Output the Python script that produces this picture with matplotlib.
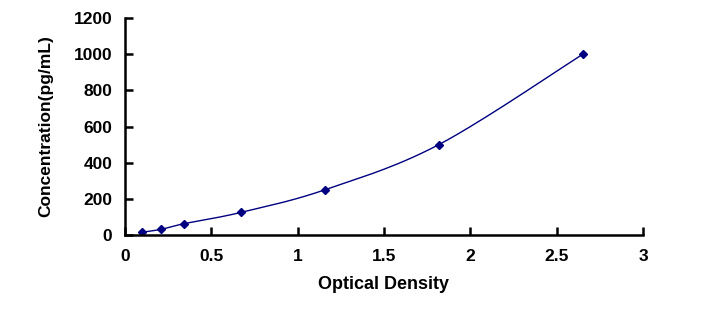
import numpy as np
import matplotlib.pyplot as plt

plt.rcParams['font.family'] = ['Liberation Sans', 'DejaVu Sans']

od = [0.098, 0.208, 0.342, 0.672, 1.158, 1.818, 2.652]
conc = [15.6, 31.2, 62.5, 125, 250, 500, 1000]


def catmull(xs, ys, n=30):
    # smooth line through points, like the spreadsheet "smoothed line"
    p = np.column_stack([xs, ys]).astype(float)
    p = np.vstack([p[0], p, p[-1]])
    out = []
    for i in range(1, len(p) - 2):
        p0, p1, p2, p3 = p[i - 1], p[i], p[i + 1], p[i + 2]
        t = np.linspace(0, 1, n)[:, None]
        c1 = p1 + (p2 - p0) / 6
        c2 = p2 - (p3 - p1) / 6
        seg = (1 - t)**3 * p1 + 3 * (1 - t)**2 * t * c1 + 3 * (1 - t) * t**2 * c2 + t**3 * p2
        out.append(seg)
    out = np.vstack(out)
    return out[:, 0], out[:, 1]


fig = plt.figure(figsize=(7.2, 3.16), dpi=100)
ax = fig.add_axes([0.1736, 0.2563, 0.7194, 0.6867])

sx, sy = catmull(od, conc)
ax.plot(sx, sy, color='#000080', lw=1)
ax.plot(od, conc, 'D', color='#000080', ms=4.5, ls='none')

ax.set_xlim(0, 3)
ax.set_ylim(0, 1200)
ax.set_xticks([0, 0.5, 1, 1.5, 2, 2.5, 3])
ax.set_xticklabels(['0', '0.5', '1', '1.5', '2', '2.5', '3'])
ax.set_yticks(range(0, 1201, 200))

for s in ['top', 'right']:
    ax.spines[s].set_visible(False)
for s in ['left', 'bottom']:
    ax.spines[s].set_linewidth(1.8)

ax.tick_params(direction='in', length=6, width=1.8, labelsize=12.5)
ax.tick_params(axis='x', pad=10)
ax.tick_params(axis='y', pad=9)
for lb in ax.get_xticklabels() + ax.get_yticklabels():
    lb.set_fontweight('bold')

ax.set_xlabel('Optical Density', fontsize=13, fontweight='bold', labelpad=9)
ax.set_ylabel('Concentration(pg/mL)', fontsize=12.5, fontweight='bold', labelpad=15)

fig.savefig('out.png', dpi=100)
